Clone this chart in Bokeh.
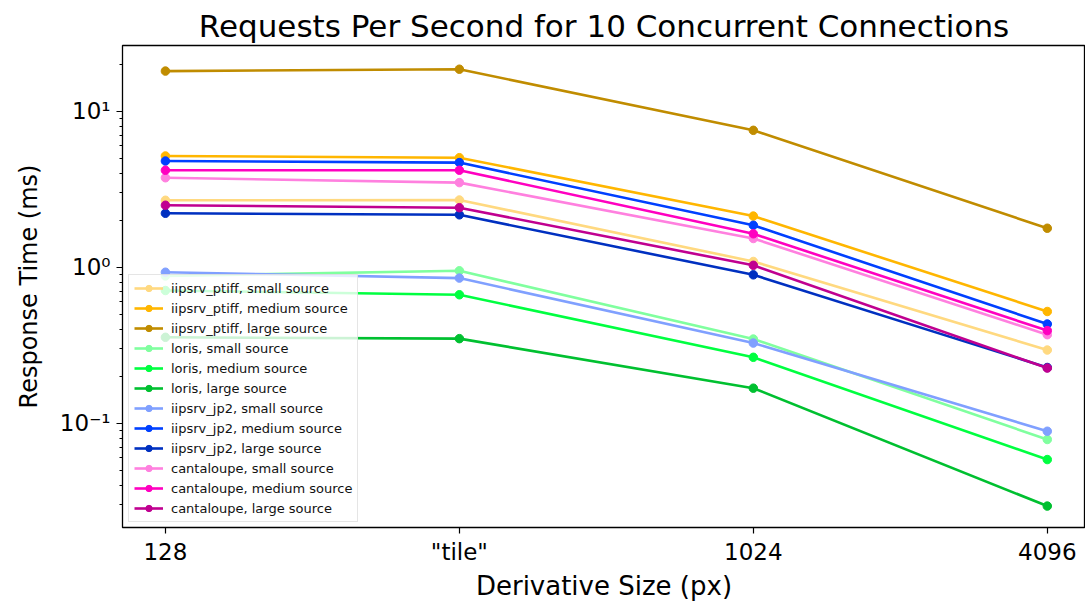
from bokeh.plotting import figure
from bokeh.models import Range1d, FixedTicker, LogTicker, Legend, LegendItem
from bokeh.embed import file_html
from bokeh.resources import INLINE

# ---- data ----
sizes = ['128', '"tile"', '1024', '4096']

names = [
    "iipsrv_ptiff, small source", "iipsrv_ptiff, medium source", "iipsrv_ptiff, large source",
    "loris, small source", "loris, medium source", "loris, large source",
    "iipsrv_jp2, small source", "iipsrv_jp2, medium source", "iipsrv_jp2, large source",
    "cantaloupe, small source", "cantaloupe, medium source", "cantaloupe, large source",
]
ptiff_small = [2.69, 2.70, 1.09, 0.295]
ptiff_medium = [5.17, 5.04, 2.13, 0.521]
ptiff_large = [18.1, 18.6, 7.55, 1.78]
loris_small = [0.88, 0.95, 0.347, 0.0788]
loris_medium = [0.71, 0.667, 0.265, 0.0586]
loris_large = [0.356, 0.349, 0.168, 0.0295]
jp2_small = [0.93, 0.853, 0.327, 0.089]
jp2_medium = [4.80, 4.69, 1.86, 0.433]
jp2_large = [2.22, 2.17, 0.895, 0.228]
cantaloupe_small = [3.75, 3.49, 1.53, 0.370]
cantaloupe_medium = [4.19, 4.19, 1.64, 0.393]
cantaloupe_large = [2.50, 2.41, 1.03, 0.226]

series = [ptiff_small, ptiff_medium, ptiff_large,
          loris_small, loris_medium, loris_large,
          jp2_small, jp2_medium, jp2_large,
          cantaloupe_small, cantaloupe_medium, cantaloupe_large]
colors = ["#ffd980", "#ffb600", "#c08c00",
          "#80ff9f", "#00ff40", "#00c030",
          "#80a0ff", "#0040ff", "#0030c0",
          "#ff80df", "#ff00c0", "#c00090"]

FONT = "DejaVu Sans"
xpos = list(range(len(sizes)))

p = figure(width=1085, height=605, y_axis_type="log",
           x_range=Range1d(-0.146, 3.13), y_range=Range1d(0.0215, 26.4),
           output_backend="svg", toolbar_location=None,
           min_border_left=122, min_border_right=0, min_border_top=45, min_border_bottom=78)

p.title.text = "Requests Per Second for 10 Concurrent Connections"
p.title.text_font = FONT
p.title.text_font_size = "31px"
p.title.text_font_style = "normal"
p.title.text_color = "black"
p.title.align = "center"
p.title.offset = -10
p.title.standoff = 4

p.grid.visible = False
p.outline_line_color = "black"
p.outline_line_width = 1.3
p.background_fill_color = "white"
p.border_fill_color = "white"

items = []
for name, vals, col in zip(names, series, colors):
    r1 = p.line(xpos, vals, line_color=col, line_width=2.6)
    r2 = p.scatter(xpos, vals, marker="circle", size=8.5, fill_color=col, line_color=col)
    items.append(LegendItem(label=name, renderers=[r1, r2]))

legend = Legend(items=items, location=(6, 5),
                label_text_font=FONT, label_text_font_size="13px",
                label_text_color="#111111",
                label_height=16, glyph_height=16, glyph_width=29, spacing=4,
                padding=5, margin=0, label_standoff=8,
                border_line_color="#cccccc", border_line_width=1.5,
                background_fill_color="white", background_fill_alpha=0.8)
p.add_layout(legend, "center")

# x axis
p.xaxis.ticker = FixedTicker(ticks=xpos)
p.xaxis.major_label_overrides = {i: s for i, s in enumerate(sizes)}
p.xaxis.axis_label = "Derivative Size (px)"
# y axis
p.yaxis.ticker = LogTicker(num_minor_ticks=10)
p.yaxis.major_label_overrides = {0.01: "10⁻²", 0.1: "10⁻¹", 1: "10⁰", 10: "10¹", 100: "10²"}
p.yaxis.axis_label = "Response Time (ms)"

for ax in (p.xaxis[0], p.yaxis[0]):
    ax.axis_line_color = None
    ax.major_tick_out = 6
    ax.major_tick_in = 0
    ax.minor_tick_out = 3
    ax.minor_tick_in = 0
    ax.major_tick_line_width = 1.2
    ax.minor_tick_line_width = 1
    ax.major_label_text_font = FONT
    ax.major_label_text_font_size = "23px"
    ax.major_label_text_color = "black"
    ax.axis_label_text_font = FONT
    ax.axis_label_text_font_style = "normal"
    ax.axis_label_text_color = "black"
p.xaxis.axis_label_text_font_size = "26px"
p.yaxis.axis_label_text_font_size = "24px"
p.xaxis.minor_tick_out = 0
p.xaxis.major_label_standoff = 5
p.xaxis.axis_label_standoff = 3
p.yaxis.major_label_standoff = 6
p.yaxis.axis_label_standoff = 14

open("out.html", "w").write(file_html(p, INLINE))
